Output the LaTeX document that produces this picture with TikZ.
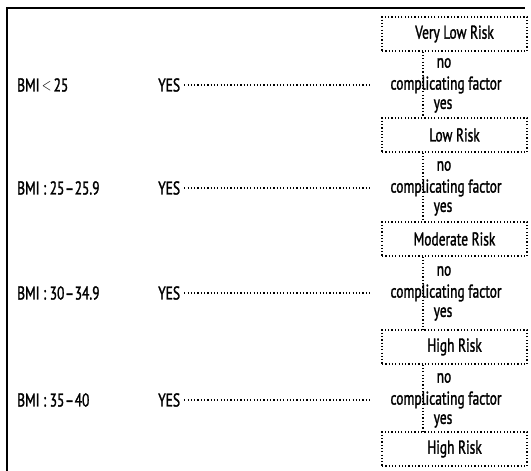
\documentclass[tikz,border=0pt]{standalone}
\usepackage{fontspec}
\usepackage{graphicx}
\setmainfont[FakeBold=1.8]{PT Sans}
\newlength\cfwidth
\newcommand\sq[1]{\scalebox{\sxval}[1]{#1}}
\newcommand\labelsize{\fontsize{18.5}{19}\selectfont}
\begin{document}%
\settowidth{\cfwidth}{\labelsize complicating factor}%
\pgfmathsetmacro\sxval{111/\cfwidth}%
\begin{tikzpicture}[x=1pt,y=-1pt,
  riskbox/.style={draw,line width=1.2pt,dash pattern=on 1.2pt off 2.1pt,minimum width=145pt,minimum height=34pt,inner sep=0pt,font=\labelsize},
  lbl/.style={inner sep=0pt,font=\labelsize},
  dotline/.style={line width=1.2pt,dash pattern=on 1.2pt off 2.1pt},
  frame/.style={line width=1.4pt}]
\useasboundingbox (0,0) rectangle (531,471);
% frame
\coordinate (fbl) at (7,471);
\coordinate (ftl) at (7,8);
\coordinate (ftr) at (525,8);
\draw[frame] (fbl) -- (ftl) -- (ftr);
% risk boxes
\node[riskbox] (b1) at (454.5,34) {\sq{Very Low Risk}};
\node[riskbox] (b2) at (454.5,135) {\sq{Low Risk}};
\node[riskbox] (b3) at (454.5,239) {\sq{Moderate Risk}};
\node[riskbox] (b4) at (454.5,347) {\sq{High Risk}};
\node[riskbox] (b5) at (454.5,449) {\sq{High Risk}};
\coordinate (vx) at (423,0);
% vertical connectors
\draw[dotline] (b1.south -| vx) -- (b2.north -| vx);
\draw[dotline] (b2.south -| vx) -- (b3.north -| vx);
\draw[dotline] (b3.south -| vx) -- (b4.north -| vx);
\draw[dotline] (b4.south -| vx) -- (b5.north -| vx);
% rows
\foreach \i/\y/\t in {1/85/{BMI\,\raisebox{0.5pt}{$<$}\,25},2/188/{BMI : 25\kern1pt--\kern1pt25.9},3/293/{BMI : 30\kern1pt--\kern1pt34.9},4/400/{BMI : 35\kern1pt--\kern1pt40}}{
  \node[lbl,anchor=west] (bmi\i) at (17,\y) {\sq{\t}};
  \node[lbl,anchor=west] (yes\i) at (158,\y) {\sq{YES}};
  \node[lbl] (cf\i) at (446,\y) {\sq{complicating factor}};
  \node[lbl] (no\i) at (444,\y-22) {\sq{no}};
  \node[lbl] (ys\i) at (443,\y+21) {\sq{yes}};
  \draw[dotline,shorten <=4pt,shorten >=19pt] (yes\i.east) -- (cf\i.west);
}
\end{tikzpicture}%
\end{document}
